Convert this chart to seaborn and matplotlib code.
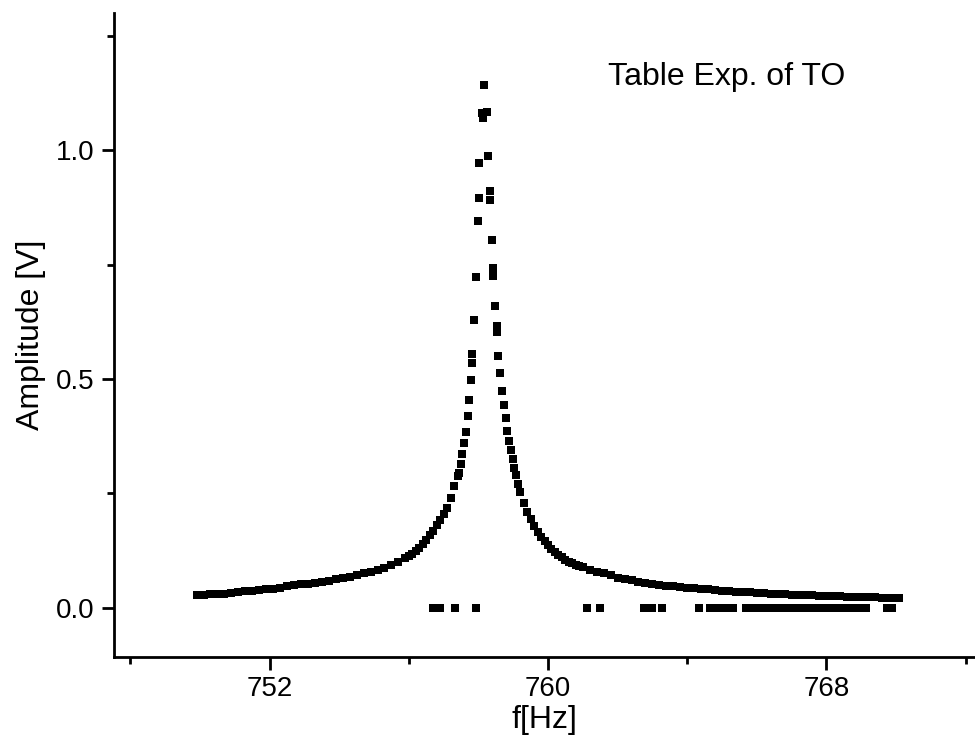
import numpy as np
import pandas as pd
import matplotlib
matplotlib.use("Agg")
import matplotlib.pyplot as plt
from matplotlib.ticker import MultipleLocator
import seaborn as sns

# left tail of the resonance (Hz, V)
f_left = [749.9, 750.1, 750.3, 750.5, 750.7, 750.9, 751.1, 751.3, 751.5, 751.7,
          751.9, 752.1, 752.3, 752.5, 752.7, 752.9, 753.1, 753.3, 753.5, 753.7,
          753.9, 754.1, 754.3, 754.5, 754.7, 754.9, 755.1, 755.3, 755.5, 755.7,
          755.9, 756.0, 756.1, 756.2, 756.3, 756.4, 756.5, 756.6, 756.7, 756.8,
          756.9, 757.0, 757.1, 757.2, 757.3, 757.4]
a_left = [0.027, 0.028, 0.029, 0.030, 0.031, 0.033, 0.034, 0.036, 0.037, 0.039,
          0.040, 0.042, 0.044, 0.047, 0.049, 0.051, 0.053, 0.055, 0.057, 0.059,
          0.062, 0.065, 0.068, 0.071, 0.075, 0.079, 0.083, 0.087, 0.093, 0.100,
          0.108, 0.113, 0.118, 0.124, 0.131, 0.139, 0.148, 0.158, 0.168, 0.180,
          0.192, 0.204, 0.217, 0.240, 0.265, 0.289]

# sparse points around the peak
f_peak = [757.44, 757.50, 757.53, 757.59, 757.64, 757.70, 757.73, 757.79, 757.82, 757.82,
          757.87, 757.93, 757.99, 758.02, 758.02, 758.10, 758.13, 758.16,
          758.25, 758.28, 758.33, 758.33, 758.39, 758.42, 758.42, 758.48, 758.53, 758.53,
          758.56, 758.62, 758.68, 758.74, 758.79, 758.82, 758.88, 758.94, 758.99, 759.02,
          759.08, 759.14]
a_peak = [0.295, 0.315, 0.335, 0.361, 0.385, 0.420, 0.453, 0.497, 0.534, 0.554,
          0.628, 0.722, 0.845, 0.895, 0.972, 1.081, 1.070, 1.142,
          1.083, 0.987, 0.910, 0.890, 0.803, 0.742, 0.724, 0.659, 0.615, 0.602,
          0.551, 0.514, 0.473, 0.442, 0.414, 0.387, 0.365, 0.344, 0.326, 0.306,
          0.291, 0.270]

# right tail
f_right = [759.2, 759.3, 759.4, 759.5, 759.6, 759.7, 759.8, 759.9, 760.0, 760.1,
           760.2, 760.3, 760.4, 760.5, 760.6, 760.7, 760.8, 760.9, 761.0, 761.2,
           761.4, 761.6, 761.8, 762.0, 762.2, 762.4, 762.6, 762.8, 763.0, 763.2,
           763.4, 763.6, 763.8, 764.0, 764.2, 764.4, 764.6, 764.8, 765.0, 765.2,
           765.4, 765.6, 765.8, 766.0, 766.2, 766.4, 766.6, 766.8, 767.0, 767.2,
           767.4, 767.6, 767.8, 768.0, 768.2, 768.4, 768.6, 768.8, 769.0, 769.2,
           769.4, 769.6, 769.8, 770.0, 770.1]
a_right = [0.252, 0.230, 0.210, 0.193, 0.178, 0.165, 0.155, 0.146, 0.137, 0.128,
           0.121, 0.115, 0.110, 0.105, 0.101, 0.097, 0.094, 0.091, 0.088, 0.083,
           0.079, 0.075, 0.071, 0.066, 0.063, 0.060, 0.057, 0.054, 0.052, 0.050,
           0.048, 0.047, 0.045, 0.044, 0.043, 0.041, 0.040, 0.038, 0.037, 0.036,
           0.035, 0.034, 0.034, 0.033, 0.032, 0.031, 0.030, 0.029, 0.028, 0.028,
           0.027, 0.027, 0.026, 0.026, 0.025, 0.025, 0.024, 0.024, 0.023, 0.023,
           0.023, 0.022, 0.022, 0.022, 0.021]

# readings that dropped to zero
f_zero = [756.70, 756.80, 756.90, 757.33, 757.93, 761.12, 761.49, 762.76, 762.88, 763.0,
          763.28, 764.34, 764.65, 764.75, 764.85, 764.95, 765.05, 765.15, 765.25, 765.32,
          765.69, 765.8, 765.9, 766.0, 766.1, 766.2, 766.3, 766.4, 766.5, 766.6,
          766.7, 766.8, 766.9, 767.0, 767.1, 767.2, 767.33, 767.47, 767.6, 767.7,
          767.8, 767.9, 768.0, 768.1, 768.2, 768.3, 768.4, 768.5, 768.6, 768.7,
          768.8, 768.9, 769.02, 769.15, 769.75, 769.88]
a_zero = [0.0] * len(f_zero)

df = pd.DataFrame({
    "f": f_left + f_peak + f_right + f_zero,
    "amp": a_left + a_peak + a_right + a_zero,
})

sns.set_theme(style="ticks")
plt.rcParams["font.family"] = ["Liberation Sans", "DejaVu Sans"]
plt.rcParams["text.color"] = "black"
plt.rcParams["axes.labelcolor"] = "black"
plt.rcParams["xtick.color"] = "black"
plt.rcParams["ytick.color"] = "black"

fig = plt.figure(figsize=(9.75, 7.54), dpi=100)
ax = fig.add_axes([0.117, 0.129, 0.883, 0.854])

sns.scatterplot(data=df, x="f", y="amp", marker="s", color="black",
                s=32, linewidth=0, ax=ax, legend=False)

ax.set_xlim(747.53, 772.27)
ax.set_ylim(-0.107, 1.30)
ax.xaxis.set_major_locator(MultipleLocator(8))
ax.xaxis.set_minor_locator(MultipleLocator(4))
ax.yaxis.set_major_locator(MultipleLocator(0.5))
ax.yaxis.set_minor_locator(MultipleLocator(0.25))
ax.yaxis.set_major_formatter(matplotlib.ticker.FormatStrFormatter("%.1f"))

for side in ["top", "right"]:
    ax.spines[side].set_visible(False)
for side in ["left", "bottom"]:
    ax.spines[side].set_linewidth(2)
    ax.spines[side].set_color("black")

ax.tick_params(which="major", length=9, width=2, labelsize=20, pad=5)
ax.tick_params(which="minor", length=5, width=2)

ax.set_xlabel("f[Hz]", fontsize=23, labelpad=2)
ax.set_ylabel("Amplitude [V]", fontsize=23, labelpad=7)

ax.text(761.72, 1.142, "Table Exp. of TO", fontsize=23, va="baseline", ha="left")

fig.savefig("out.png", dpi=100)
